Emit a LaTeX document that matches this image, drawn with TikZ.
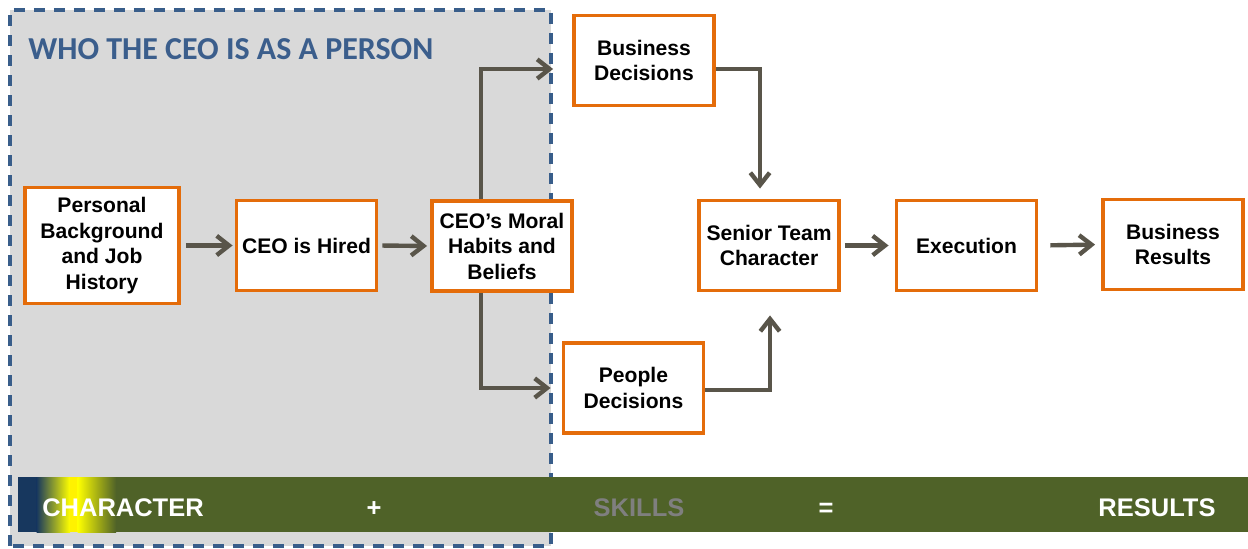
\documentclass[tikz,border=0pt]{standalone}
\usepackage{fontspec}
\setmainfont{Liberation Sans}
\newfontfamily\titlefont{Carlito}
\usepackage{tikz}
\usetikzlibrary{arrows.meta,positioning}
\usepackage{xcolor}

\definecolor{boxorange}{RGB}{228,108,10}
\definecolor{flowgray}{RGB}{89,85,74}
\definecolor{dashblue}{RGB}{56,93,138}
\definecolor{titleblue}{RGB}{59,94,140}
\definecolor{personfill}{RGB}{217,217,217}
\definecolor{bargreen}{RGB}{79,98,40}
\definecolor{barnavy}{RGB}{23,55,94}
\definecolor{skillgray}{RGB}{127,127,127}

\begin{document}
\begin{tikzpicture}
\tikzstyle{stepbox} = [
	shape=rectangle,
	draw=boxorange,
	fill=white,
	line width=2.2pt, %thick orange frame
	minimum width=2.8cm,
	minimum height=1.8cm,
	inner sep=1pt,
	align=center,
	font=\bfseries\fontsize{12}{14.5}\selectfont
];
\tikzstyle{flow} = [
	draw=flowgray,
	line width=2.5pt,
	-{Straight Barb[length=7pt,width=11pt]}
];
\tikzstyle{bartext} = [
	inner sep=0pt,
	anchor=base,
	font=\bfseries\fontsize{14.5}{16}\selectfont
];

\useasboundingbox (0,0) rectangle (24.96,10.96);

% who the CEO is as a person
\fill[personfill] (0.2,0.04) rectangle (11.02,10.76);
\draw[dashblue, line width=2.2pt, dash pattern=on 0.22cm off 0.18cm] (0.2,0.04) rectangle (11.02,10.76);
\node[anchor=base west, inner sep=0pt, text=titleblue, font=\titlefont\bfseries\fontsize{18.2}{21}\selectfont](TITLE) at (0.56, 9.76) {WHO THE CEO IS AS A PERSON};

\begin{scope}[scale=1.0,shift={(0,0)}]
	\node[stepbox, minimum width=3.08cm, minimum height=2.32cm](Personal) at (2.04, 6.05) {Personal\\Background\\and Job\\History};
	\node[stepbox](Hired) at (6.13, 6.05) {CEO is Hired};
	\node[stepbox](Moral) at (10.04, 6.04) {CEO's Moral\\Habits and\\Beliefs};
	\node[stepbox](BusDec) at (12.88, 9.75) {Business\\Decisions};
	\node[stepbox](PeoDec) at (12.67, 3.20) {People\\Decisions};
	\node[stepbox](Senior) at (15.38, 6.05) {Senior Team\\Character};
	\node[stepbox](Exec) at (19.33, 6.05) {Execution};
	\node[stepbox](Results) at (23.46, 6.07) {Business\\Results};
\end{scope}

\draw [flow, shorten <=0.1cm, shorten >=0.04cm] (Personal.east) to[] (Hired.west);
\draw [flow, shorten <=0.08cm, shorten >=0.06cm] (Hired.east) to[] (Moral.west);
\draw [flow, shorten >=0.38cm] ([xshift=-0.42cm]Moral.north) |- ([yshift=-0.17cm]BusDec.west);
\draw [flow, shorten >=0.22cm] ([xshift=-0.42cm]Moral.south) |- (PeoDec.west);
\draw [flow, shorten >=0.2cm] ([yshift=-0.17cm]BusDec.east) -| ([xshift=-0.18cm]Senior.north);
\draw [flow, shorten >=0.46cm] ([yshift=-0.04cm]PeoDec.east) -| ([xshift=0.02cm]Senior.south);
\draw [flow, shorten <=0.08cm, shorten >=0.12cm] (Senior.east) to[] (Exec.west);
\draw [flow, shorten <=0.24cm, shorten >=0.12cm] (Exec.east) to[] (Results.west);

% character + skills = results
\fill[bargreen] (0.36,0.32) rectangle (24.96,1.42);
\fill[barnavy] (0.36,0.32) rectangle (0.74,1.42);
\shade[left color=barnavy, right color=yellow] (0.73,0.32) rectangle (1.40,1.42);
\fill[yellow] (1.39,0.32) rectangle (1.56,1.42);
\shade[left color=yellow, right color=bargreen] (1.55,0.32) rectangle (2.32,1.42);
\node[bartext, anchor=base west, text=white](CHAR) at (0.84, 0.64) {CHARACTER};
\node[bartext, text=white](PLUS) at (7.48, 0.64) {+};
\node[bartext, text=skillgray](SKILLS) at (12.78, 0.64) {SKILLS};
\node[bartext, text=white](EQ) at (16.52, 0.64) {=};
\node[bartext, text=white](RES) at (23.14, 0.64) {RESULTS};
\end{tikzpicture}
\end{document}
